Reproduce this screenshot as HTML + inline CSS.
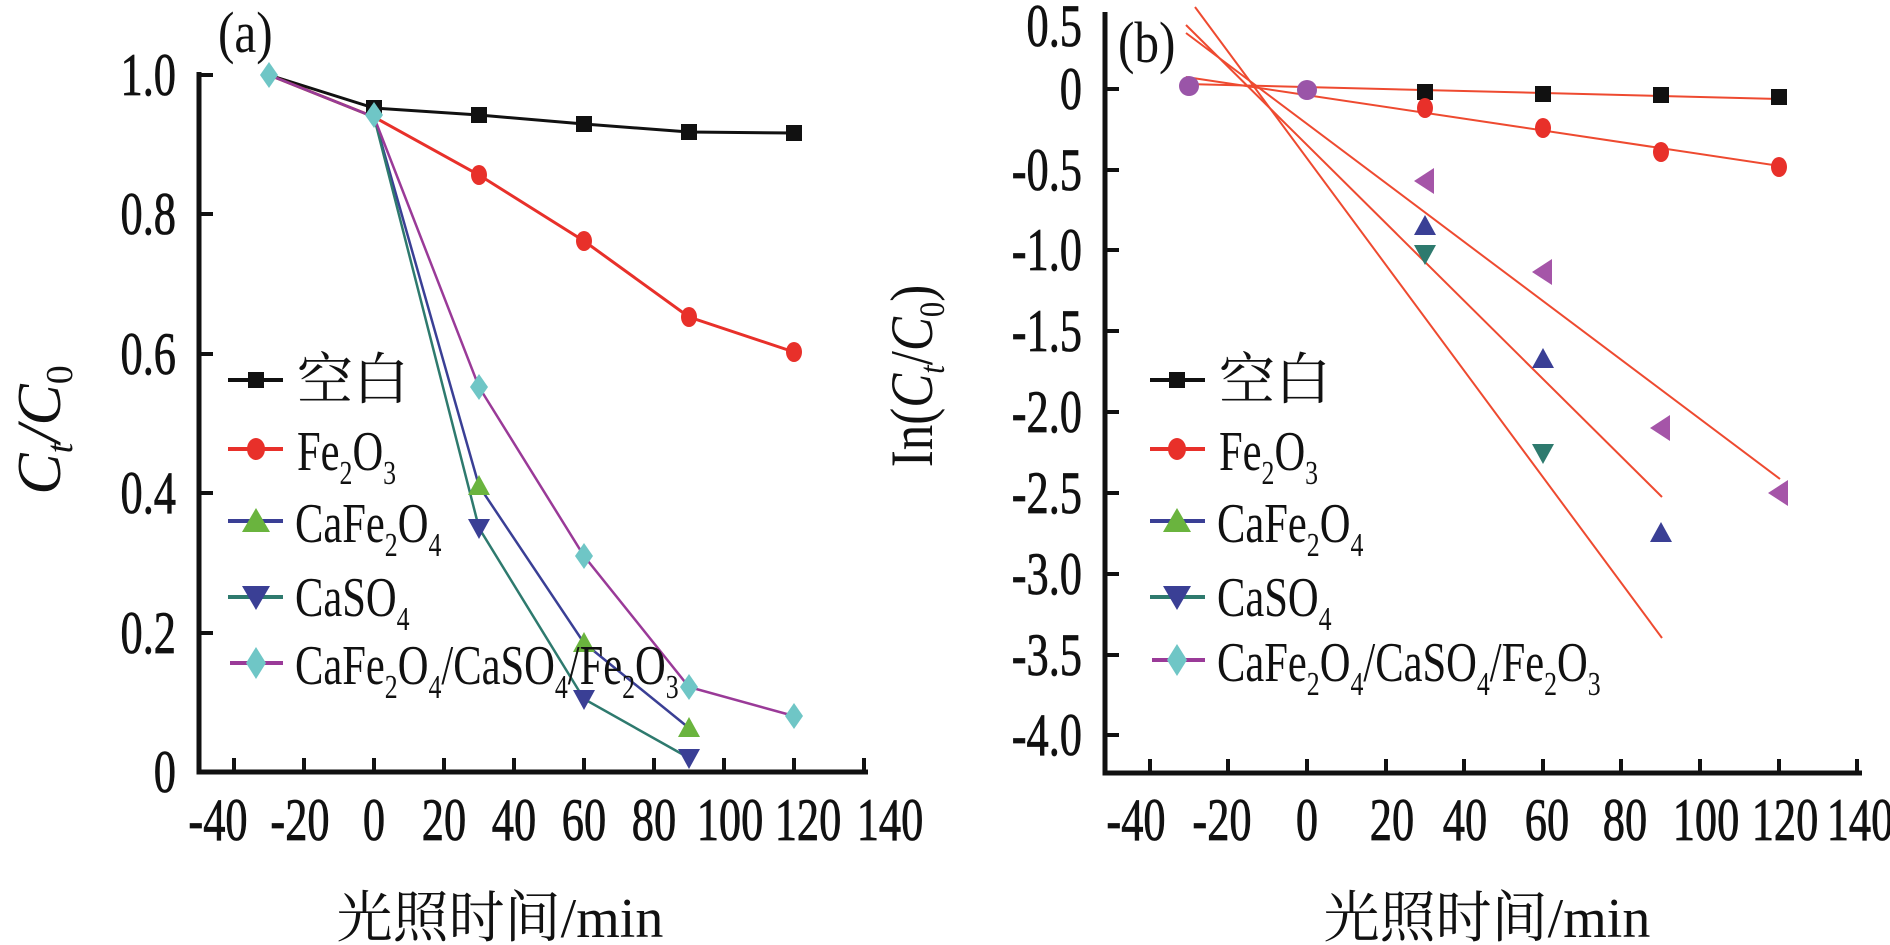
<!DOCTYPE html>
<html><head><meta charset="utf-8"><style>
html,body{margin:0;padding:0;background:#fff;}
svg{display:block;}
text{font-family:"Liberation Serif","Noto Serif CJK SC","Noto Sans CJK SC",serif;fill:#111;}
</style></head><body>
<svg width="1890" height="945" viewBox="0 0 1890 945" xmlns="http://www.w3.org/2000/svg">
<defs>
<path id="tu" d="M-11,9 L11,9 L0,-11 Z"/>
<path id="td" d="M-11,-9 L11,-9 L0,11 Z"/>
<path id="tl" d="M9,-13 L9,13 L-11,0 Z"/>
<path id="dm" d="M0,-13 L9,0 L0,13 L-9,0 Z"/>
<rect id="sq" x="-8" y="-8" width="16" height="16"/>
</defs>

<!-- ============ Panel A ============ -->
<g stroke="#111" stroke-width="5" fill="none">
<path d="M199,72 L199,772 L868,772"/>
</g>
<g stroke="#111" stroke-width="4">
<path d="M199,75 h14 M199,214 h14 M199,354 h14 M199,493 h14 M199,633 h14"/>
<path d="M234,772 v-14 M304,772 v-14 M374,772 v-14 M444,772 v-14 M514,772 v-14 M584,772 v-14 M654,772 v-14 M724,772 v-14 M794,772 v-14 M864,772 v-14"/>
</g>
<g font-size="60" text-anchor="end" stroke="#111" stroke-width="0.8">
<text transform="translate(176,95) scale(0.74,1)">1.0</text>
<text transform="translate(176,234) scale(0.74,1)">0.8</text>
<text transform="translate(176,374) scale(0.74,1)">0.6</text>
<text transform="translate(176,513) scale(0.74,1)">0.4</text>
<text transform="translate(176,653) scale(0.74,1)">0.2</text>
<text transform="translate(176,792) scale(0.74,1)">0</text>
</g>
<g font-size="60" text-anchor="middle" stroke="#111" stroke-width="0.8">
<text transform="translate(218,840) scale(0.74,1)">-40</text>
<text transform="translate(300,840) scale(0.74,1)">-20</text>
<text transform="translate(374,840) scale(0.74,1)">0</text>
<text transform="translate(444,840) scale(0.74,1)">20</text>
<text transform="translate(514,840) scale(0.74,1)">40</text>
<text transform="translate(584,840) scale(0.74,1)">60</text>
<text transform="translate(654,840) scale(0.74,1)">80</text>
<text transform="translate(730,840) scale(0.74,1)">100</text>
<text transform="translate(808,840) scale(0.74,1)">120</text>
<text transform="translate(890,840) scale(0.74,1)">140</text>
</g>
<text x="500" y="937" font-size="56" text-anchor="middle">光照时间/min</text>
<text font-size="58" transform="translate(218,52) scale(0.85,1)">(a)</text>
<text font-size="62" font-style="italic" transform="translate(60,430) rotate(-90)" text-anchor="middle">C<tspan font-size="38" dy="12">t</tspan><tspan dy="-12">/C</tspan><tspan font-size="38" dy="12" font-style="normal">0</tspan></text>

<!-- series A -->
<polyline fill="none" stroke="#111" stroke-width="3" points="269,75 374,108 479,115 584,124 689,132 794,133"/>
<polyline fill="none" stroke="#e8302a" stroke-width="3" points="269,75 374,117 479,175 584,241 689,317 794,352"/>
<polyline fill="none" stroke="#3a3f95" stroke-width="2.5" points="269,75 374,117 479,486 584,643 689,728"/>
<polyline fill="none" stroke="#2e7a6e" stroke-width="2.5" points="269,75 374,117 479,528 584,699 689,758"/>
<polyline fill="none" stroke="#9a3a98" stroke-width="2.5" points="269,75 374,117 479,387 584,556 689,687 794,716"/>
<g fill="#111"><use href="#sq" x="374" y="108"/><use href="#sq" x="479" y="115"/><use href="#sq" x="584" y="124"/><use href="#sq" x="689" y="132"/><use href="#sq" x="794" y="133"/></g>
<g fill="#e8302a"><ellipse cx="479" cy="175" rx="8" ry="10"/><ellipse cx="584" cy="241" rx="8" ry="10"/><ellipse cx="689" cy="317" rx="8" ry="10"/><ellipse cx="794" cy="352" rx="8" ry="10"/></g>
<g fill="#6ab43e"><use href="#tu" x="479" y="486"/><use href="#tu" x="584" y="643"/><use href="#tu" x="689" y="728"/></g>
<g fill="#3a3f95"><use href="#td" x="479" y="528"/><use href="#td" x="584" y="699"/><use href="#td" x="689" y="758"/></g>
<g fill="#6fc6c6"><use href="#dm" x="269" y="75"/><use href="#dm" x="374" y="115"/><use href="#dm" x="479" y="387"/><use href="#dm" x="584" y="556"/><use href="#dm" x="689" y="687"/><use href="#dm" x="794" y="716"/></g>

<!-- legend A -->
<g stroke-width="4">
<line x1="228" y1="380" x2="283" y2="380" stroke="#111"/>
<line x1="228" y1="449" x2="283" y2="449" stroke="#e8302a"/>
<line x1="228" y1="521" x2="283" y2="521" stroke="#3a3f95"/>
<line x1="228" y1="597" x2="283" y2="597" stroke="#2e7a6e"/>
<line x1="230" y1="663" x2="283" y2="663" stroke="#9a3a98"/>
</g>
<use href="#sq" x="256" y="380" fill="#111"/>
<ellipse cx="256" cy="449" rx="9" ry="11" fill="#e8302a"/>
<path d="M242,532 L270,532 L256,508 Z" fill="#6ab43e"/>
<path d="M242,586 L270,586 L256,610 Z" fill="#3a3f95"/>
<path d="M256,647 L266,663 L256,679 L246,663 Z" fill="#6fc6c6"/>
<g font-size="56">
<text x="297" y="399">空白</text>
<text transform="translate(297,470) scale(0.76,1)">Fe<tspan font-size="34" dy="14">2</tspan><tspan dy="-14">O</tspan><tspan font-size="34" dy="14">3</tspan></text>
<text transform="translate(295,542) scale(0.76,1)">CaFe<tspan font-size="34" dy="14">2</tspan><tspan dy="-14">O</tspan><tspan font-size="34" dy="14">4</tspan></text>
<text transform="translate(295,616) scale(0.76,1)">CaSO<tspan font-size="34" dy="14">4</tspan></text>
<text transform="translate(295,684) scale(0.76,1)">CaFe<tspan font-size="34" dy="14">2</tspan><tspan dy="-14">O</tspan><tspan font-size="34" dy="14">4</tspan><tspan dy="-14">/CaSO</tspan><tspan font-size="34" dy="14">4</tspan><tspan dy="-14">/Fe</tspan><tspan font-size="34" dy="14">2</tspan><tspan dy="-14">O</tspan><tspan font-size="34" dy="14">3</tspan></text>
</g>

<!-- ============ Panel B ============ -->
<g stroke="#111" stroke-width="5" fill="none">
<path d="M1105,12 L1105,773 L1862,773"/>
</g>
<g stroke="#111" stroke-width="4">
<path d="M1105,89 h14 M1105,170 h14 M1105,250 h14 M1105,331 h14 M1105,412 h14 M1105,493 h14 M1105,574 h14 M1105,655 h14 M1105,735 h14"/>
<path d="M1150,773 v-14 M1228,773 v-14 M1307,773 v-14 M1386,773 v-14 M1464,773 v-14 M1543,773 v-14 M1621,773 v-14 M1700,773 v-14 M1779,773 v-14 M1857,773 v-14"/>
</g>
<g font-size="60" text-anchor="end" stroke="#111" stroke-width="0.8">
<text transform="translate(1082,46) scale(0.74,1)">0.5</text>
<text transform="translate(1082,109) scale(0.74,1)">0</text>
<text transform="translate(1082,190) scale(0.74,1)">-0.5</text>
<text transform="translate(1082,270) scale(0.74,1)">-1.0</text>
<text transform="translate(1082,351) scale(0.74,1)">-1.5</text>
<text transform="translate(1082,432) scale(0.74,1)">-2.0</text>
<text transform="translate(1082,513) scale(0.74,1)">-2.5</text>
<text transform="translate(1082,594) scale(0.74,1)">-3.0</text>
<text transform="translate(1082,675) scale(0.74,1)">-3.5</text>
<text transform="translate(1082,755) scale(0.74,1)">-4.0</text>
</g>
<g font-size="60" text-anchor="middle" stroke="#111" stroke-width="0.8">
<text transform="translate(1136,840) scale(0.74,1)">-40</text>
<text transform="translate(1222,840) scale(0.74,1)">-20</text>
<text transform="translate(1307,840) scale(0.74,1)">0</text>
<text transform="translate(1392,840) scale(0.74,1)">20</text>
<text transform="translate(1465,840) scale(0.74,1)">40</text>
<text transform="translate(1547,840) scale(0.74,1)">60</text>
<text transform="translate(1625,840) scale(0.74,1)">80</text>
<text transform="translate(1706,840) scale(0.74,1)">100</text>
<text transform="translate(1785,840) scale(0.74,1)">120</text>
<text transform="translate(1860,840) scale(0.74,1)">140</text>
</g>
<text x="1487" y="937" font-size="56" text-anchor="middle">光照时间/min</text>
<text font-size="58" transform="translate(1118,62) scale(0.85,1)">(b)</text>
<text font-size="60" transform="translate(932,376) rotate(-90) scale(0.85,1)" text-anchor="middle">In(<tspan font-style="italic">C</tspan><tspan font-size="36" dy="12" font-style="italic">t</tspan><tspan dy="-12">/</tspan><tspan font-style="italic">C</tspan><tspan font-size="36" dy="12">0</tspan><tspan dy="-12">)</tspan></text>

<!-- fit lines -->
<g stroke="#ee4a30" stroke-width="2" fill="none">
<line x1="1195" y1="7" x2="1662" y2="638"/>
<line x1="1186" y1="25" x2="1662" y2="497"/>
<line x1="1186" y1="33" x2="1780" y2="479"/>
<line x1="1186" y1="84" x2="1780" y2="99"/>
<line x1="1186" y1="77" x2="1780" y2="166"/>
</g>
<!-- points B -->
<g fill="#9a55a8"><circle cx="1189" cy="86" r="10"/><circle cx="1307" cy="90" r="10"/></g>
<g fill="#111"><use href="#sq" x="1425" y="92"/><use href="#sq" x="1543" y="94"/><use href="#sq" x="1661" y="95"/><use href="#sq" x="1779" y="97"/></g>
<g fill="#e8302a"><ellipse cx="1425" cy="108" rx="8" ry="10"/><ellipse cx="1543" cy="128" rx="8" ry="10"/><ellipse cx="1661" cy="152" rx="8" ry="10"/><ellipse cx="1779" cy="167" rx="8" ry="10"/></g>
<g fill="#3a3f95"><use href="#tu" x="1425" y="226"/><use href="#tu" x="1543" y="359"/><use href="#tu" x="1661" y="533"/></g>
<g fill="#2e7a6e"><use href="#td" x="1425" y="254"/><use href="#td" x="1543" y="453"/></g>
<g fill="#a555a8"><use href="#tl" x="1425" y="181"/><use href="#tl" x="1543" y="272"/><use href="#tl" x="1661" y="428"/><use href="#tl" x="1779" y="493"/></g>

<!-- legend B -->
<g stroke-width="4">
<line x1="1150" y1="380" x2="1205" y2="380" stroke="#111"/>
<line x1="1150" y1="449" x2="1205" y2="449" stroke="#e8302a"/>
<line x1="1150" y1="521" x2="1205" y2="521" stroke="#3a3f95"/>
<line x1="1150" y1="597" x2="1205" y2="597" stroke="#2e7a6e"/>
<line x1="1152" y1="660" x2="1205" y2="660" stroke="#9a3a98"/>
</g>
<use href="#sq" x="1177" y="380" fill="#111"/>
<ellipse cx="1177" cy="449" rx="9" ry="11" fill="#e8302a"/>
<path d="M1163,532 L1191,532 L1177,508 Z" fill="#6ab43e"/>
<path d="M1163,586 L1191,586 L1177,610 Z" fill="#3a3f95"/>
<path d="M1177,644 L1187,660 L1177,676 L1167,660 Z" fill="#6fc6c6"/>
<g font-size="56">
<text x="1219" y="399">空白</text>
<text transform="translate(1219,470) scale(0.76,1)">Fe<tspan font-size="34" dy="14">2</tspan><tspan dy="-14">O</tspan><tspan font-size="34" dy="14">3</tspan></text>
<text transform="translate(1217,542) scale(0.76,1)">CaFe<tspan font-size="34" dy="14">2</tspan><tspan dy="-14">O</tspan><tspan font-size="34" dy="14">4</tspan></text>
<text transform="translate(1217,616) scale(0.76,1)">CaSO<tspan font-size="34" dy="14">4</tspan></text>
<text transform="translate(1217,681) scale(0.76,1)">CaFe<tspan font-size="34" dy="14">2</tspan><tspan dy="-14">O</tspan><tspan font-size="34" dy="14">4</tspan><tspan dy="-14">/CaSO</tspan><tspan font-size="34" dy="14">4</tspan><tspan dy="-14">/Fe</tspan><tspan font-size="34" dy="14">2</tspan><tspan dy="-14">O</tspan><tspan font-size="34" dy="14">3</tspan></text>
</g>
</svg>
</body></html>
